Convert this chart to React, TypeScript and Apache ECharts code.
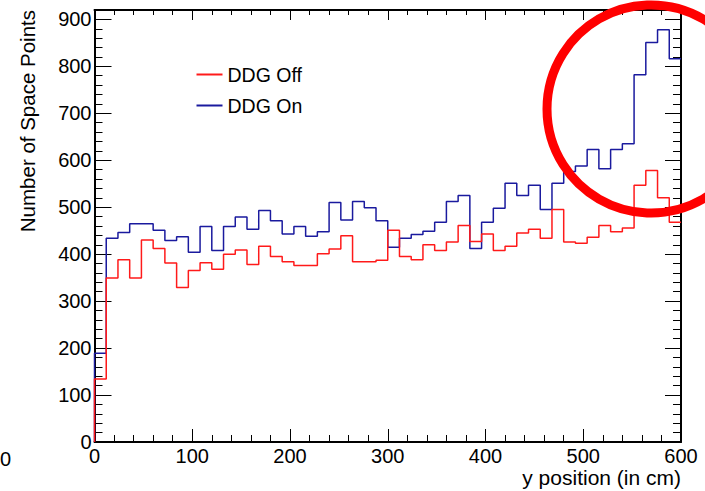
import React, { useEffect, useRef } from "react";
import * as echarts from "echarts";

// Histogram binning (cm)
const BIN_WIDTH = 12;
const X_MIN = 0;
const X_MAX = 600;
const Y_MIN = 0;
const Y_MAX = 920;

const seriesNames = ["DDG Off", "DDG On"];
const seriesColors = ["#ff1a1a", "#1a1a9e"];

// Number of space points per 12 cm bin in y position
const ddgOff = [
  134, 349, 388, 349, 430, 412, 381, 329, 365, 382,
  368, 400, 409, 378, 417, 395, 384, 376, 376, 401,
  411, 439, 384, 384, 387, 451, 395, 388, 420, 408,
  426, 461, 427, 443, 408, 417, 445, 453, 434, 495,
  426, 423, 436, 461, 448, 456, 547, 578, 520, 468,
];
const ddgOn = [
  189, 434, 446, 465, 465, 451, 429, 437, 404, 459,
  408, 459, 479, 453, 493, 471, 443, 459, 438, 448,
  510, 473, 512, 499, 471, 415, 434, 442, 449, 468,
  512, 525, 412, 468, 498, 551, 525, 547, 495, 551,
  576, 588, 623, 582, 623, 635, 782, 851, 878, 816,
];

const xTitle = "y position (in cm)";
const yTitle = "Number of Space Points";

const FONT = "'Liberation Sans', Arial, Helvetica, sans-serif";

function toSteps(values: number[]): number[][] {
  const pts: number[][] = [[X_MIN, 0]];
  values.forEach((v, i) => pts.push([X_MIN + i * BIN_WIDTH, v]));
  pts.push([X_MIN + values.length * BIN_WIDTH, values[values.length - 1]]);
  return pts;
}

const L = 94.5;
const T = 10;
const W = 586.5;
const H = 432;

function axisBase(pos: string, isX: boolean, majorLen: number, minorLen: number, showLabel: boolean) {
  return {
    type: "value",
    position: pos,
    min: isX ? X_MIN : Y_MIN,
    max: isX ? X_MAX : Y_MAX,
    interval: 100,
    axisLine: { show: true, onZero: false, lineStyle: { color: "#000", width: 2 } },
    axisTick: { show: true, inside: true, length: majorLen, lineStyle: { color: "#000", width: 1 } },
    minorTick: { show: true, splitNumber: 5, length: minorLen, lineStyle: { color: "#000", width: 1 } },
    splitLine: { show: false },
    minorSplitLine: { show: false },
    axisLabel: {
      show: showLabel,
      margin: isX ? 6 : 3,
      fontSize: 20,
      lineHeight: 16,
      color: "#000",
      fontFamily: FONT,
      formatter: (v: number) => (v % 100 === 0 ? String(v) : ""),
    },
  };
}

export default function App() {
  const ref = useRef<HTMLDivElement>(null);

  useEffect(() => {
    if (!ref.current) return;
    const chart = echarts.init(ref.current, undefined, { renderer: "svg" });
    const option: any = {
      animation: false,
      backgroundColor: "#fff",
      grid: { left: L, top: T, width: W, height: H, containLabel: false },
      xAxis: [axisBase("bottom", true, 13, 7, true), axisBase("top", true, 10, 5, false)],
      yAxis: [axisBase("left", false, 17, 8, true), axisBase("right", false, 16, 8, false)],
      legend: {
        orient: "vertical",
        left: 196.5,
        top: 64.5,
        padding: 0,
        itemWidth: 26,
        itemHeight: 2,
        itemGap: 11,
        icon: "rect",
        textStyle: { fontSize: 19.5, color: "#000", fontFamily: FONT },
        data: [seriesNames[0], seriesNames[1]],
      },
      series: [
        {
          name: seriesNames[1],
          type: "line",
          step: "end",
          showSymbol: false,
          color: seriesColors[1],
          lineStyle: { color: seriesColors[1], width: 1.5 },
          itemStyle: { color: seriesColors[1] },
          data: toSteps(ddgOn),
          z: 2,
        },
        {
          name: seriesNames[0],
          type: "line",
          step: "end",
          showSymbol: false,
          color: seriesColors[0],
          lineStyle: { color: seriesColors[0], width: 1.5 },
          itemStyle: { color: seriesColors[0] },
          data: toSteps(ddgOff),
          z: 3,
        },
      ],
      graphic: [
        {
          type: "text",
          x: L + W,
          y: 477.5,
          style: { text: xTitle, fontSize: 21, lineHeight: 16, fill: "#000", fontFamily: FONT, align: "right", verticalAlign: "middle" },
        },
        {
          type: "text",
          x: 27.4,
          y: 10,
          rotation: Math.PI / 2,
          style: { text: yTitle, fontSize: 20.5, fill: "#000", fontFamily: FONT, align: "right", verticalAlign: "middle" },
        },
        {
          type: "text",
          x: 0,
          y: 459,
          style: { text: "0", fontSize: 20, fill: "#000", fontFamily: FONT, align: "left", verticalAlign: "middle" },
        },
        {
          type: "circle",
          z: 100,
          shape: { cx: 651, cy: 109, r: 104 },
          style: { fill: "none", stroke: "#ff0000", lineWidth: 9 },
        },
      ],
    };
    chart.setOption(option);
    return () => chart.dispose();
  }, []);

  return (
    <div
      ref={ref}
      style={{ position: "fixed", left: 0, top: 0, width: 705, height: 491, background: "#fff" }}
    />
  );
}
